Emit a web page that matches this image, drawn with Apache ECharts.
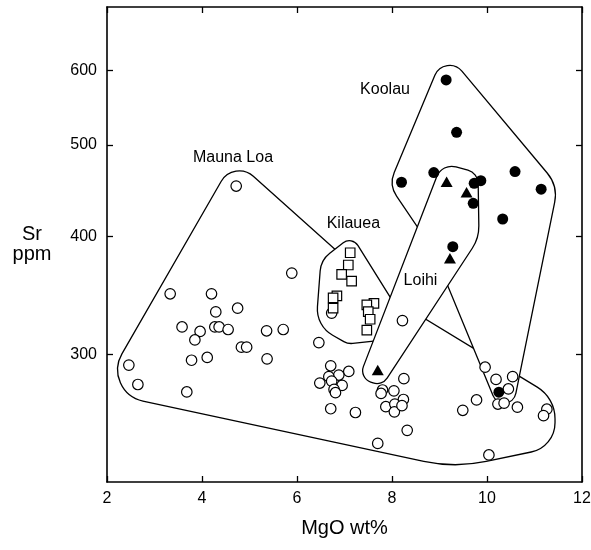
<!DOCTYPE html>
<html>
<head>
<meta charset="utf-8">
<script src="https://cdn.jsdelivr.net/npm/echarts@6/dist/echarts.min.js"></script>
<style>
  html, body { margin: 0; padding: 0; background: #fff; }
  #chart { width: 591px; height: 550px; }
</style>
</head>
<body>
<div id="chart"></div>
<script>
// ---- data (MgO wt%, Sr ppm) ----
const xTicks = [2, 4, 6, 8, 10, 12];
const yTicks = [300, 400, 500, 600];

const maunaLoa = [
  [5.89,366],[3.33,348],[4.20,348],[4.75,336],[4.29,333],[3.58,321],[3.96,317.5],[4.27,321],
  [4.36,321],[4.55,319],[5.36,318],[5.71,319],[3.85,311],[4.83,305.6],[4.94,305.6],[3.78,296],
  [4.11,298],[5.37,297],[2.46,292.5],[2.65,279],[3.68,274],[4.72,452.5],
  [6.73,332],[8.22,326],
  [6.46,309],[6.71,292],[7.09,288],[6.88,285.5],[6.67,284.4],[6.48,280],[6.73,281.3],[6.95,278.4],
  [6.78,275.7],[6.81,273.5],[6.71,263],[7.23,260.6],[7.70,241.7],
  [8.25,283],[7.80,275.3],[7.77,273],[8.04,274.7],[8.24,269],[7.87,264.3],[8.06,266],[8.05,261],
  [8.21,265],[8.32,249.5],
  [9.96,291],[10.19,282.5],[10.54,284.4],[10.45,276],[10.23,266],[10.36,266.6],[10.64,264],
  [9.78,268.7],[9.49,262],[11.26,262.7],[11.19,258.6],[10.04,235]
];
const kilauea = [
  [7.12,384.6],[7.08,373.3],[6.94,364.9],[7.15,359],[6.84,346.3],[6.76,344.6],[6.76,336],
  [7.62,340],[7.47,338.7],[7.50,333.2],[7.54,327.1],[7.47,318.5]
];
const koolau = [
  [9.14,586],[9.36,515.8],[8.20,456.7],[8.88,467.6],[9.73,455.5],[9.87,458.5],[9.71,433.9],
  [10.59,468.7],[11.14,449],[10.33,417.6],[9.28,390.4],[10.25,273.8]
];
const loihi = [
  [9.15,457.3],[9.57,445.7],[9.22,379.5],[7.70,289]
];

// field outlines (corner points, MgO / Sr)
const outlineMaunaLoa = [[4.674,483.3],[7.874,347.0],[11.432,270.0],[11.432,239.6],[9.326,227.6],[1.853,274.0]];
const outlineKoolau   = [[9.116,628.8],[11.495,452.6],[10.442,248.5],[8.863,387.2],[7.937,453.7]];
const outlineKilauea  = [[7.158,400.7],[6.505,377.9],[6.4,321.8],[7.074,308.0],[7.853,311.0],[8.063,338.7]];
const outlineLoihi    = [[9.053,478.6],[9.811,467.1],[9.832,398.7],[7.789,278.0],[7.305,283.5]];

// field names and where they are written
const fieldNames = ['Mauna Loa', 'Koolau', 'Kilauea', 'Loihi'];
const fieldNameAt = [[4.653,485.1],[7.853,571.9],[7.187,413.4],[8.6,359.5]];

// ---- styling (corner rounding in px) ----
const cornerRadii = {
  maunaLoa: [21, 0, 37, 30, 150, 32],
  koolau:   [16, 35, 12, 0, 25],
  kilauea:  [10, 25, 30, 15, 0, 0],
  loihi:    [16, 14, 40, 12, 12]
};
const FONT = '"Liberation Sans", Arial, Helvetica, sans-serif';
const L = v => Math.log10(v);
const toXY = arr => arr.map(p => [p[0], L(p[1])]);

function filletPath(P, R) {
  const n = P.length;
  const c = [];
  for (let i = 0; i < n; i++) {
    const p = P[i], a = P[(i - 1 + n) % n], b = P[(i + 1) % n];
    const v1 = [a[0] - p[0], a[1] - p[1]], v2 = [b[0] - p[0], b[1] - p[1]];
    const l1 = Math.hypot(v1[0], v1[1]), l2 = Math.hypot(v2[0], v2[1]);
    const u1 = [v1[0] / l1, v1[1] / l1], u2 = [v2[0] / l2, v2[1] / l2];
    const cs = Math.max(-1, Math.min(1, u1[0] * u2[0] + u1[1] * u2[1]));
    const th = Math.acos(cs);
    const r = R[i] || 0;
    if (r <= 0 || th > 3.13) { c.push({ A: p, B: p, sharp: true }); continue; }
    let d = r / Math.tan(th / 2);
    d = Math.min(d, 0.55 * Math.min(l1, l2));
    const phi = Math.PI - th;
    const k = (4 / 3) * Math.tan(phi / 4) / Math.tan(phi / 2);
    const cd = k * d;
    const A = [p[0] + u1[0] * d, p[1] + u1[1] * d];
    const B = [p[0] + u2[0] * d, p[1] + u2[1] * d];
    const C1 = [A[0] - u1[0] * cd, A[1] - u1[1] * cd];
    const C2 = [B[0] - u2[0] * cd, B[1] - u2[1] * cd];
    c.push({ A, B, C1, C2, sharp: false });
  }
  let s = 'M' + c[0].A[0] + ' ' + c[0].A[1];
  for (let i = 0; i < n; i++) {
    const q = c[i];
    if (i > 0) s += ' L' + q.A[0] + ' ' + q.A[1];
    if (!q.sharp) s += ' C' + q.C1[0] + ' ' + q.C1[1] + ' ' + q.C2[0] + ' ' + q.C2[1] + ' ' + q.B[0] + ' ' + q.B[1];
  }
  s += ' Z';
  return s;
}

function outlineSeries(outline, radii, fill, order) {
  return {
    type: 'custom',
    data: toXY(outline),
    encode: { x: 0, y: 1 },
    z: 1,
    silent: true,
    clip: false,
    renderItem: function (params, api) {
      if (params.dataIndex !== 0) return null;
      const pts = [];
      for (let i = 0; i < outline.length; i++) {
        pts.push(api.coord([api.value(0, i), api.value(1, i)]));
      }
      return {
        type: 'path',
        z2: order,
        shape: { pathData: filletPath(pts, radii) },
        style: { fill: fill, stroke: '#000', lineWidth: 1.3 }
      };
    }
  };
}

const chart = echarts.init(document.getElementById('chart'), null, { renderer: 'canvas' });
const axisLineStyle = { show: true, onZero: false, lineStyle: { color: '#000', width: 1.6 } };
const tickStyle = { show: true, inside: true, length: 6, lineStyle: { color: '#000', width: 1.3 } };

chart.setOption({
  animation: false,
  backgroundColor: '#fff',
  textStyle: { fontFamily: FONT },
  grid: { left: 107, right: 9, top: 7, bottom: 68, containLabel: false, outerBoundsMode: 'none' },
  xAxis: [
    {
      type: 'value', min: xTicks[0], max: xTicks[xTicks.length - 1], interval: 2, position: 'bottom',
      axisLine: axisLineStyle, axisTick: tickStyle, splitLine: { show: false },
      axisLabel: { color: '#000', fontSize: 16, margin: 9, fontFamily: FONT },
      name: 'MgO wt%', nameLocation: 'middle', nameGap: 36,
      nameTextStyle: { color: '#000', fontSize: 20, fontFamily: FONT }
    },
    {
      type: 'value', min: xTicks[0], max: xTicks[xTicks.length - 1], interval: 2, position: 'top',
      axisLine: axisLineStyle, axisTick: tickStyle, splitLine: { show: false },
      axisLabel: { show: false }
    }
  ],
  yAxis: [
    {
      type: 'value', min: L(220), max: L(700), position: 'left',
      axisLine: axisLineStyle,
      axisTick: Object.assign({}, tickStyle, { customValues: yTicks.map(L) }),
      splitLine: { show: false },
      axisLabel: {
        customValues: yTicks.map(L), color: '#000', fontSize: 16, margin: 10, fontFamily: FONT,
        formatter: v => String(Math.round(Math.pow(10, v)))
      },
      name: 'Sr\nppm', nameLocation: 'middle', nameGap: 75, nameRotate: 0,
      nameTextStyle: { color: '#000', fontSize: 20, align: 'center', verticalAlign: 'middle', lineHeight: 20, fontFamily: FONT }
    },
    {
      type: 'value', min: L(220), max: L(700), position: 'right',
      axisLine: axisLineStyle,
      axisTick: Object.assign({}, tickStyle, { customValues: yTicks.map(L) }),
      splitLine: { show: false },
      axisLabel: { show: false }
    }
  ],
  series: [
    outlineSeries(outlineMaunaLoa, cornerRadii.maunaLoa, 'none', 1),
    outlineSeries(outlineKoolau, cornerRadii.koolau, '#fff', 2),
    outlineSeries(outlineKilauea, cornerRadii.kilauea, '#fff', 3),
    outlineSeries(outlineLoihi, cornerRadii.loihi, '#fff', 4),
    {
      type: 'scatter', name: 'Mauna Loa', data: toXY(maunaLoa), symbol: 'circle', symbolSize: 10.5, z: 3,
      itemStyle: { color: '#fff', borderColor: '#000', borderWidth: 1.2, opacity: 1 }, emphasis: { disabled: true }
    },
    {
      type: 'scatter', name: 'Kilauea', data: toXY(kilauea), symbol: 'rect', symbolSize: 9.5, z: 3,
      itemStyle: { color: '#fff', borderColor: '#000', borderWidth: 1.2, opacity: 1 }, emphasis: { disabled: true }
    },
    {
      type: 'scatter', name: 'Koolau', data: toXY(koolau), symbol: 'circle', symbolSize: 11, z: 3,
      itemStyle: { color: '#000', opacity: 1 }, emphasis: { disabled: true }
    },
    {
      type: 'scatter', name: 'Loihi', data: toXY(loihi), symbol: 'triangle', symbolSize: [12, 10.5], z: 3,
      itemStyle: { color: '#000', opacity: 1 }, emphasis: { disabled: true }
    },
    {
      type: 'scatter', name: 'labels', z: 4, silent: true, symbolSize: 0,
      itemStyle: { opacity: 1 },
      data: fieldNames.map((nm, i) => ({ name: nm, value: [fieldNameAt[i][0], L(fieldNameAt[i][1])] })),
      label: { show: true, position: 'inside', formatter: '{b}', color: '#000', opacity: 1, fontSize: 16, fontFamily: FONT },
      emphasis: { disabled: true }
    }
  ]
});
</script>
</body>
</html>
